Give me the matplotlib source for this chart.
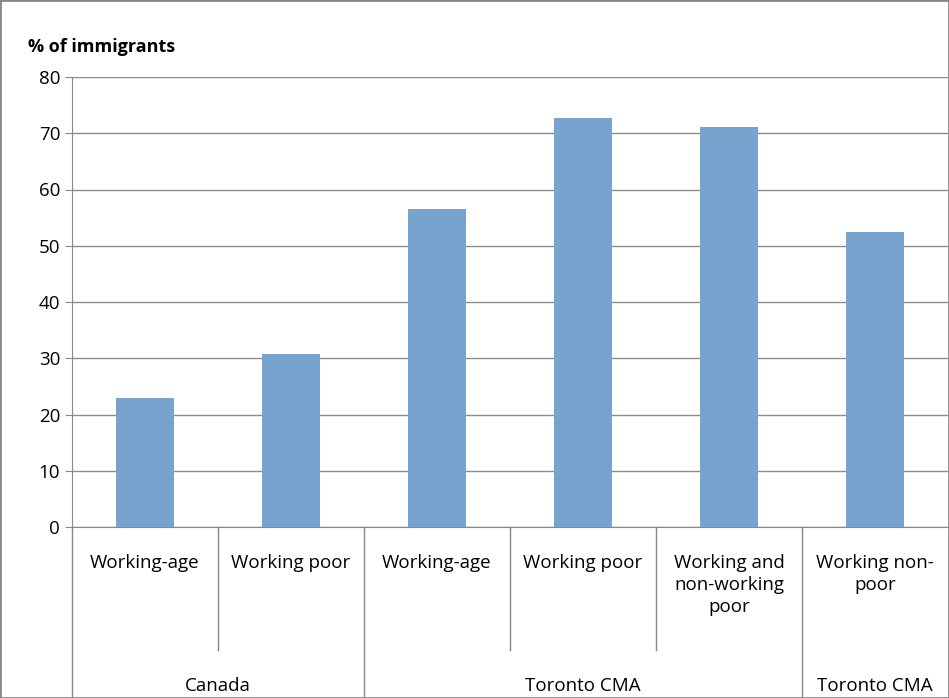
import matplotlib
matplotlib.use("Agg")
import matplotlib.pyplot as plt
import matplotlib.transforms as mtrans

categories = ["Working-age", "Working poor", "Working-age", "Working poor",
              "Working and\nnon-working\npoor", "Working non-\npoor"]
groups = ["Canada", "Toronto CMA", "Toronto CMA"]
group_spans = [(0, 2), (2, 5), (5, 6)]
values = [23.0, 30.8, 56.6, 72.8, 71.2, 52.5]

plt.rcParams['font.family'] = ['Open Sans', 'DejaVu Sans']
W, H = 949, 698
fig = plt.figure(figsize=(W/100, H/100), dpi=100)
ax = fig.add_axes([72/W, 1-527/H, 876/W, 450/H])
x = list(range(len(values)))
ax.bar(x, values, width=0.4, color="#77a3cf", zorder=3)
ax.set_xlim(-0.5, 5.5)
ax.set_ylim(0, 80)
ax.set_yticks(range(0, 81, 10))
ax.tick_params(axis='y', labelsize=13.5, length=5, color="#888888")
ax.tick_params(axis='x', bottom=False, labelbottom=False)
ax.grid(axis='y', color="#8c8c8c", linewidth=1, zorder=0)
for s in ["top", "right"]:
    ax.spines[s].set_visible(False)
for s in ["left", "bottom"]:
    ax.spines[s].set_color("#888888")

tr = mtrans.blended_transform_factory(ax.transData, ax.transAxes)
def px(p):  # pixel y -> axes fraction
    return (527 - p) / 450

ax.plot([-0.5, -0.5], [0, px(698)], transform=tr, color="#888888", lw=1, clip_on=False)
for b in [0.5, 2.5, 3.5]:
    ax.plot([b, b], [0, px(650)], transform=tr, color="#888888", lw=1, clip_on=False)
for b in [1.5, 4.5]:
    ax.plot([b, b], [0, px(698)], transform=tr, color="#888888", lw=1, clip_on=False)
for i, c in enumerate(categories):
    ax.text(i, px(554), c, transform=tr, ha='center', va='top', fontsize=13.5,
            linespacing=1.3)
for g, (a, b) in zip(groups, group_spans):
    ax.text((a + b - 1) / 2, px(677), g, transform=tr, ha='center', va='top', fontsize=13.5)

fig.text(28/W, 1-47/H, "% of immigrants", fontsize=13, fontweight='bold', va='center')
fig.patches.append(plt.Rectangle((0, 0), 1, 1, transform=fig.transFigure, fill=False,
                                 edgecolor="#888888", lw=2))
fig.savefig("out.png", dpi=100)
